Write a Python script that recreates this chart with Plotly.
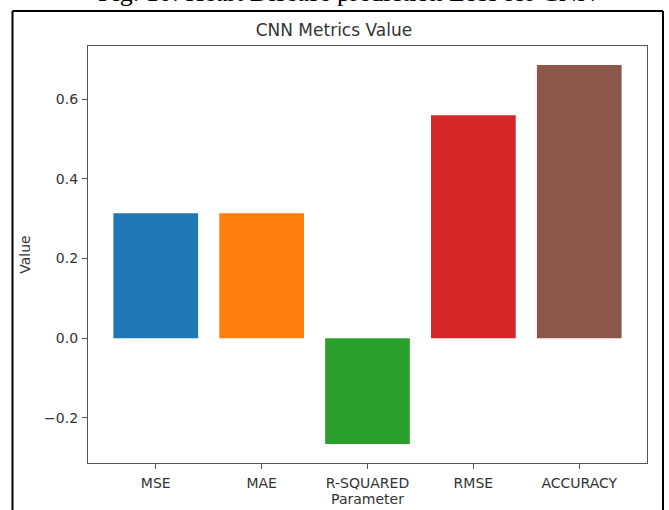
import plotly.graph_objects as go

categories = ["MSE", "MAE", "R-SQUARED", "RMSE", "ACCURACY"]
values = [0.3137, 0.3137, -0.266, 0.5601, 0.6863]
colors = ["#1f77b4", "#ff7f0e", "#2ca02c", "#d62728", "#8c564b"]
y_ticks = [-0.2, 0.0, 0.2, 0.4, 0.6]
y_tick_labels = ["\u22120.2", "0.0", "0.2", "0.4", "0.6"]

W, H = 669, 510
L, R, T, B = 88, 22, 46, 47
pw, ph = W - L - R, H - T - B

def px_x(x):
    return (x - L) / pw

def px_y(y):
    return (H - B - y) / ph

fig = go.Figure(go.Bar(x=categories, y=values, marker=dict(color=colors, line=dict(width=0)),
                       width=0.8))

span = max(values) - min(values)
ymin, ymax = min(values) - 0.05 * span, max(values) + 0.05 * span

axis_common = dict(showline=True, mirror=True, linecolor="#555", linewidth=1.2,
                   ticks="outside", ticklen=5, tickcolor="#555", tickwidth=1,
                   showgrid=False, zeroline=False, automargin=False,
                   tickfont=dict(family="DejaVu Sans", size=14, color="#333"))

fig.update_layout(
    width=W, height=H,
    margin=dict(l=L, r=R, t=T, b=B),
    paper_bgcolor="white", plot_bgcolor="white",
    showlegend=False,
    title=dict(text="CNN Metrics Value", x=px_x(367), xanchor="center",
               y=1 - 30 / H, yanchor="middle",
               font=dict(family="DejaVu Sans", size=17, color="#333")),
    xaxis=dict(range=[-0.64, 4.64], ticklabelstandoff=2,
               title=dict(text="Parameter", standoff=3,
               font=dict(family="DejaVu Sans", size=14, color="#333")), **axis_common),
    yaxis=dict(range=[ymin, ymax], tickvals=y_ticks, ticktext=y_tick_labels,
               ticklabelstandoff=1,
               title=dict(text="Value", standoff=10,
               font=dict(family="DejaVu Sans", size=14, color="#333")), **axis_common),
    shapes=[
        dict(type="line", xref="paper", yref="paper", x0=px_x(12.5), x1=px_x(12.5),
             y0=px_y(11), y1=px_y(515), line=dict(color="black", width=2)),
        dict(type="line", xref="paper", yref="paper", x0=px_x(663), x1=px_x(663),
             y0=px_y(11), y1=px_y(515), line=dict(color="black", width=2)),
        dict(type="line", xref="paper", yref="paper", x0=px_x(12.5), x1=px_x(663),
             y0=px_y(11), y1=px_y(11), line=dict(color="black", width=2)),
    ],
    annotations=[
        dict(text="Fig. 10: Heart Disease prediction Loss for CNN", xref="paper", yref="paper",
             x=px_x(347), y=px_y(-7), xanchor="center", yanchor="middle", showarrow=False,
             font=dict(family="Liberation Serif", size=26, color="black")),
    ],
)

fig.write_html("out.html", config={"displayModeBar": False},
               post_script="document.body.style.margin='0';document.body.style.overflow='hidden';")
